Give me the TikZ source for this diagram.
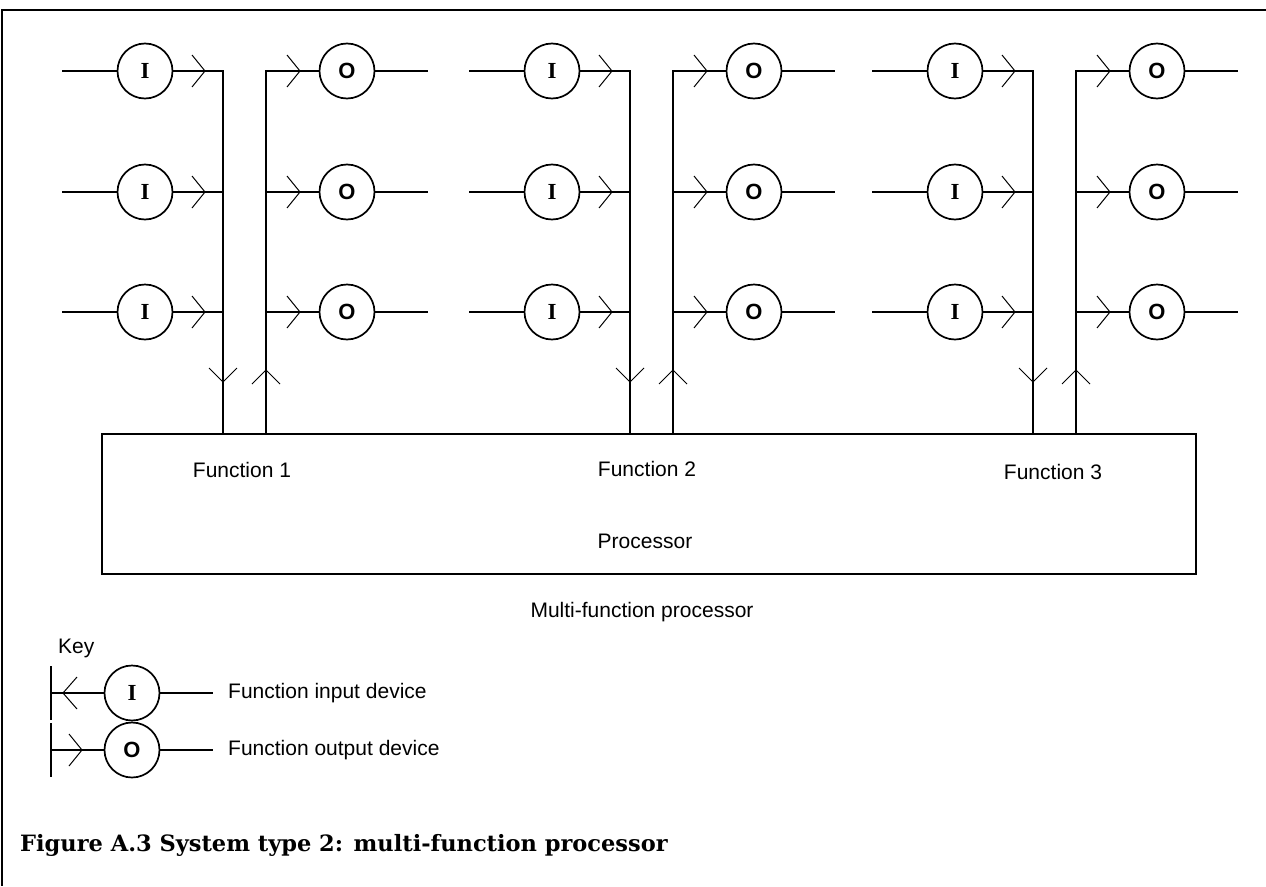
\documentclass[tikz,border=0pt]{standalone}
\usepackage{fontspec}
\setmainfont{Liberation Sans}
\newfontfamily\serfont{Liberation Serif}
\newfontfamily\capfont{DejaVu Serif}
\begin{document}
\begin{tikzpicture}[x=1pt,y=-1pt,
  dev/.style={circle,draw,line width=1.7pt,minimum size=55pt,inner sep=0pt},
  idev/.style={dev,font=\serfont\bfseries\fontsize{23}{23}\selectfont},
  odev/.style={dev,font=\bfseries\fontsize{22}{22}\selectfont},
  wire/.style={line width=1.4pt},
  bus/.style={line width=2.4pt,line join=miter},
  chev/.style={line width=1pt},
  lbl/.style={font=\fontsize{21}{24}\selectfont,inner sep=0pt},
  chright/.pic={\draw[chev] (-13,-16) -- (0,0) -- (-13,16);},
  chleft/.pic={\draw[chev] (14,-16) -- (0,0) -- (14,16);},
  chdown/.pic={\draw[chev] (-14,-14) -- (0,0) -- (14,-14);},
  chup/.pic={\draw[chev] (-14,14) -- (0,0) -- (14,14);}]
\useasboundingbox (0,0) rectangle (1266,886);
% frame
\draw[line width=1.5pt] (1266,10) -- (2,10) -- (2,886);
% processor box
\node[draw,line width=1.8pt,anchor=north west,minimum width=1094pt,minimum height=140pt,inner sep=0pt] (proc) at (101,433) {};
\node[lbl] (f1) at (242,470) {Function 1};
\node[lbl] (f2) at (647,469) {Function 2};
\node[lbl] (f3) at (1053,472) {Function 3};
\node[lbl] (pr) at (645,541) {Processor};
\node[lbl] (mfp) at (642,612) {Multi-function processor};
% groups
\foreach \g/\o in {1/0,2/407,3/810}{
  \foreach \r/\y in {1/71,2/192,3/312}{
    \coordinate (ls\g\r) at (62+\o,\y);
    \node[idev] (I\g\r) at (145+\o,\y) {I};
    \coordinate (bi\g\r) at (223+\o,\y);
    \coordinate (bo\g\r) at (266+\o,\y);
    \node[odev] (O\g\r) at (347+\o,\y) {O};
    \coordinate (le\g\r) at (428+\o,\y);
    \draw[wire] (ls\g\r) -- (I\g\r.west);
    \draw[wire] (O\g\r.east) -- (le\g\r);
    \pic at (205+\o,\y) {chright};
    \pic at (300+\o,\y) {chright};
  }
  \draw[bus] (I\g1.east) -- (bi\g1) -- (bi\g1 |- proc.north);
  \draw[bus] (O\g1.west) -- (bo\g1) -- (bo\g1 |- proc.north);
  \draw[bus] (I\g2.east) -- (bi\g2);
  \draw[bus] (I\g3.east) -- (bi\g3);
  \draw[bus] (bo\g2) -- (O\g2.west);
  \draw[bus] (bo\g3) -- (O\g3.west);
  \pic at (223+\o,382) {chdown};
  \pic at (266+\o,370) {chup};
}
% key
\node[lbl,anchor=west] (key) at (58,648) {Key};
\coordinate (kb1) at (51,693);
\node[idev] (kI) at (132,693) {I};
\coordinate (ke1) at (213,693);
\draw[line width=1.4pt] (51,666) -- (51,720);
\draw[wire] (kb1) -- (kI.west);
\draw[wire] (kI.east) -- (ke1);
\pic at (63,693) {chleft};
\node[lbl,anchor=west] (kt1) at (228,693) {Function input device};
\coordinate (kb2) at (51,750);
\node[odev] (kO) at (132,750) {O};
\coordinate (ke2) at (213,750);
\draw[line width=1.4pt] (51,723) -- (51,777);
\draw[wire] (kb2) -- (kO.west);
\draw[wire] (kO.east) -- (ke2);
\pic at (82,750) {chright};
\node[lbl,anchor=west] (kt2) at (228,750) {Function output device};
% caption
\node[anchor=west,inner sep=0pt,font=\capfont\bfseries\fontsize{22.5}{26}\selectfont] (cap) at (20,845) {Figure A.3 System type 2: multi-function processor};
\end{tikzpicture}
\end{document}
